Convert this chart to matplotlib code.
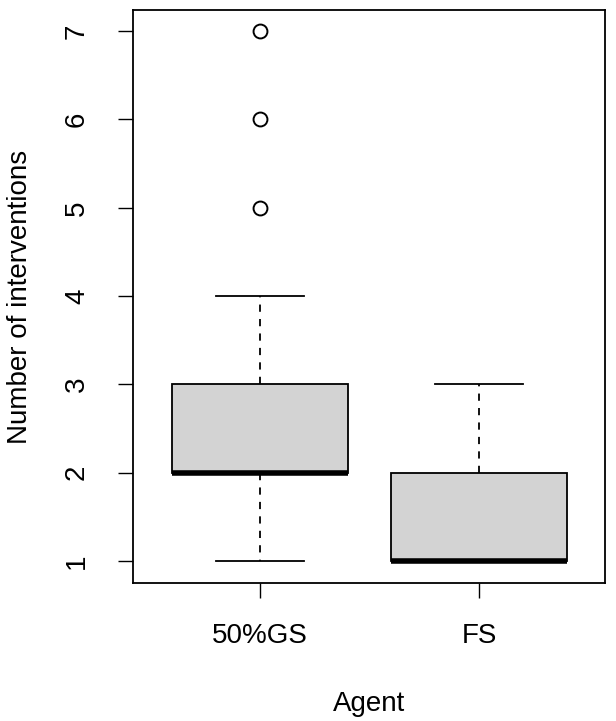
import matplotlib
matplotlib.use('Agg')
import matplotlib.pyplot as plt

agents = ['50%GS', 'FS']
q1 = [2, 1]
med = [2, 1]
q3 = [3, 2]
whislo = [1, 1]
whishi = [4, 3]
fliers = [[5, 6, 7], []]
yticks = [1, 2, 3, 4, 5, 6, 7]

plt.rcParams['font.family'] = ['Liberation Sans', 'DejaVu Sans']

fig = plt.figure(figsize=(6.16, 7.21), dpi=100)
ax = fig.add_axes([133 / 616, 1 - 583 / 721, (605 - 133) / 616, (583 - 10) / 721])

stats = []
for i in range(len(agents)):
    stats.append({'label': agents[i], 'q1': q1[i], 'med': med[i], 'q3': q3[i],
                  'whislo': whislo[i], 'whishi': whishi[i], 'fliers': fliers[i]})

ax.bxp(stats, positions=[1, 2], widths=0.8, patch_artist=True,
       boxprops=dict(facecolor='#d3d3d3', edgecolor='black', linewidth=1.3),
       medianprops=dict(color='black', linewidth=4, solid_capstyle='butt'),
       whiskerprops=dict(color='black', linewidth=1.3, linestyle=(0, (4, 4))),
       capprops=dict(color='black', linewidth=1.3),
       capwidths=0.4,
       flierprops=dict(marker='o', markerfacecolor='none', markeredgecolor='black',
                       markersize=10, markeredgewidth=1.4))

ax.set_xlim(1 - 127 / 219, 2 + 126 / 219)
ax.set_ylim(0.75, 7.24)
ax.set_yticks(yticks)
ax.set_yticklabels([str(v) for v in yticks], rotation=90, va='center')
ax.set_xticks([1, 2])
ax.set_xticklabels(agents)
ax.tick_params(axis='both', length=11, width=1, labelsize=20, direction='out')
ax.tick_params(axis='x', pad=18)
ax.tick_params(axis='y', pad=20)
for s in ax.spines.values():
    s.set_linewidth(1.3)

ax.set_xlabel('Agent', fontsize=20, labelpad=30)
ax.set_ylabel('Number of interventions', fontsize=20, labelpad=22)

fig.savefig('out.png', dpi=100, facecolor='white')
